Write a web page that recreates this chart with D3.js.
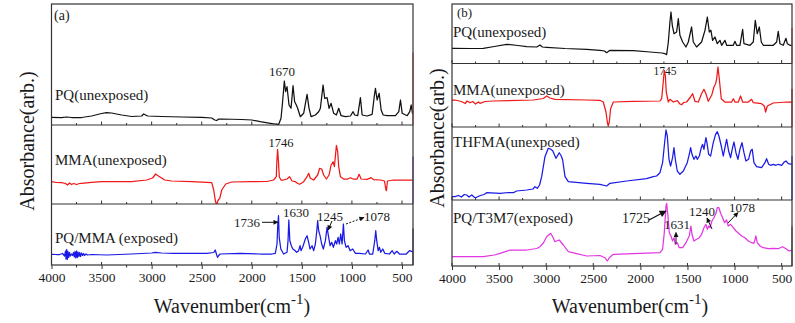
<!DOCTYPE html>
<html><head><meta charset="utf-8">
<script src="https://cdn.jsdelivr.net/npm/d3@7"></script>
<style>body{margin:0;background:#fff}svg{display:block}</style>
</head><body><svg id="c" width="795" height="323"></svg>
<script>
// ---------- data (wavenumber cm-1, absorbance arb.) ----------
const majorTicks=[4000,3500,3000,2500,2000,1500,1000,500];
const minorTicks=[3750,3250,2750,2250,1750,1250,750];
const xDomain=[4000,390];

const pqA=[[4000,7.7],[3900,7.3],[3850,8],[3800,7.5],[3700,7.5],[3600,9],[3500,11.5],[3450,12.3],[3400,12],[3300,10],[3200,8.5],[3100,9],[3080,11],[3060,10],[3040,9],[2900,8.5],[2700,8],[2500,7.7],[2400,7],[2370,5],[2350,4.5],[2330,6],[2300,6],[2100,5.5],[2000,5],[1915,3.3],[1815,1.7],[1732,0.5],[1708,6.7],[1695,20],[1675,44],[1662,33.3],[1648,38.3],[1628,20],[1608,16.7],[1588,39.3],[1572,23.3],[1555,20],[1542,16.7],[1515,8.3],[1482,11.7],[1448,30.7],[1428,16.7],[1408,8.3],[1365,10],[1332,13.3],[1315,16.7],[1288,40],[1272,26.7],[1248,27.3],[1228,16.7],[1208,21.7],[1182,11.7],[1155,10],[1132,16.7],[1108,9.3],[1065,8.3],[1015,9],[988,13.3],[972,10],[942,9.3],[915,27.3],[898,10],[848,9],[798,10.7],[775,30],[765,36.7],[748,25],[728,31.7],[708,15],[688,10],[648,9.3],[565,9.3],[532,13.3],[515,25],[498,11.7],[448,9.3],[422,13.3],[408,20],[395,11.7],[390,11]];

const mmaA=[[4000,22.3],[3950,21.5],[3900,21.3],[3860,20.5],[3840,19],[3820,21],[3800,19.5],[3780,20.5],[3750,19.5],[3720,20.5],[3700,20.7],[3600,21.7],[3500,22.3],[3200,22.3],[3050,24],[2990,26],[2960,30],[2940,28.5],[2920,27.3],[2870,24],[2800,23],[2600,22.3],[2400,21.3],[2380,14],[2365,4],[2355,0],[2345,0.7],[2335,4],[2320,5.7],[2300,14],[2260,20],[2200,22],[2000,22.3],[1850,22.5],[1782,24],[1755,27.3],[1750,42],[1742,54.5],[1735,45],[1725,27],[1708,24],[1688,24],[1648,25],[1622,27.3],[1598,23],[1565,22.3],[1540,20.5],[1522,19.7],[1500,21],[1482,22.3],[1448,27.3],[1432,30.7],[1415,25.7],[1382,24],[1342,29],[1322,35.7],[1302,35],[1282,29],[1255,25],[1228,29],[1208,39],[1188,42.3],[1175,37.3],[1155,58.5],[1142,52.3],[1132,37.3],[1115,27.3],[1082,25],[1042,25],[1015,26.3],[988,25],[948,25],[928,29.7],[908,25],[848,24.7],[808,26.3],[782,24.3],[715,24],[675,23],[660,14],[655,13.5],[645,23],[582,24],[515,24],[390,24]];

const pqmmaA=[[4000,10.7],[3950,10.5],[3920,10.5],[3890,11.5],[3870,9],[3860,14],[3855,6],[3848,15.5],[3842,5.5],[3835,13.5],[3828,7.5],[3820,12.5],[3812,9],[3800,11],[3790,9.5],[3780,12.5],[3772,8],[3765,13.5],[3757,7],[3750,14],[3742,7.5],[3735,13],[3727,8.5],[3718,12.5],[3710,8.5],[3700,12],[3690,9.5],[3680,11.5],[3670,9.5],[3655,11],[3640,10],[3600,10.5],[3450,10],[3200,11],[3000,12],[2965,12.7],[2900,12],[2782,11.7],[2448,11.7],[2380,12.5],[2365,15],[2350,10],[2342,7.7],[2330,9.5],[2315,11],[2115,11.7],[1915,11],[1798,11],[1765,11.7],[1748,21],[1740,41],[1733,49.3],[1726,27.7],[1710,16],[1682,11],[1648,12.7],[1638,24.3],[1630,45],[1620,24.3],[1605,19.3],[1590,16],[1575,15],[1552,12.7],[1532,14.3],[1518,19.3],[1508,14.3],[1492,17.7],[1465,26],[1448,29.3],[1432,22.7],[1418,16],[1398,19.3],[1382,14.3],[1365,21],[1352,32.7],[1342,44.3],[1332,34.3],[1318,29.3],[1302,21],[1285,16],[1265,24.3],[1248,37.7],[1235,29.3],[1218,19.3],[1202,22.7],[1185,17.7],[1165,24.3],[1152,21],[1138,27.7],[1125,21],[1112,31],[1098,21],[1085,41],[1075,24.3],[1058,17.7],[1038,19.3],[1018,14.3],[992,16],[965,11.7],[925,11.7],[865,11],[838,15],[825,11],[792,11],[772,24.3],[762,34.3],[752,24.3],[738,14.3],[725,17.7],[712,12.7],[692,16],[672,11.7],[625,11],[598,14.3],[578,11],[552,13.7],[525,11],[458,11],[425,14.3],[405,13.7],[390,13]];

const pqB=[[4000,15],[3986,15.2],[3800,15],[3668,15.2],[3550,17],[3420,19.2],[3300,18],[3207,16.8],[3100,16.5],[3066,18.5],[3040,16.5],[2995,16.2],[2800,15],[2570,14.2],[2429,13.2],[2380,12.5],[2358,10.8],[2323,13.2],[2075,12.8],[1898,11.5],[1770,10.5],[1739,9.8],[1721,8.8],[1703,21.5],[1686,41.5],[1675,51.5],[1661,38.2],[1643,29.8],[1615,31.5],[1597,44.8],[1580,28.2],[1551,21.5],[1516,16.5],[1491,21.5],[1456,36.5],[1438,21.5],[1403,16.5],[1350,21.5],[1314,33.2],[1289,46.5],[1268,31.5],[1251,33.2],[1233,23.2],[1208,26.5],[1183,19.8],[1155,23.2],[1137,18.2],[1102,23.2],[1084,18.2],[1013,18.2],[996,22.2],[978,18.2],[943,18.2],[914,34.2],[900,19.8],[836,18.2],[801,21.5],[780,43.2],[759,29.8],[737,36.5],[716,21.5],[695,18.2],[589,18.2],[553,21.5],[536,32.2],[518,19.8],[483,18.2],[454,25.2],[440,19.8],[412,18.2],[390,18.2]];

const mmaB=[[4000,27],[3968,27],[3900,25.5],[3860,23.5],[3840,26],[3809,24.3],[3780,25.5],[3750,23],[3720,25],[3703,23.7],[3650,25.5],[3562,26],[3137,27],[3030,28.5],[2995,31],[2960,29],[2907,27.7],[2570,27],[2429,26.7],[2394,25],[2365,15],[2351,5],[2341,1],[2330,5],[2316,18.3],[2287,25],[2075,25.7],[1792,26],[1774,28.3],[1757,45],[1746,56.7],[1735,51.7],[1725,35],[1703,25],[1686,27.7],[1650,25],[1608,26.3],[1580,23],[1562,22.3],[1540,24.5],[1509,25],[1467,30],[1445,33.3],[1420,25.7],[1385,25],[1350,33.3],[1325,37.7],[1304,33.3],[1279,25.7],[1243,31.7],[1219,40],[1201,43.3],[1190,48.3],[1176,60],[1162,48.3],[1141,28.3],[1102,25],[1031,25],[1013,28.3],[996,25],[960,25],[936,31],[914,25],[854,25],[819,27.7],[801,24.3],[713,23.3],[684,21],[670,15],[652,21],[589,24],[447,25],[390,25]];

const thfmaB=[[4000,3.5],[3968,3.3],[3930,4.5],[3900,3],[3870,5.5],[3844,5],[3820,3],[3790,5],[3760,2.5],[3738,2.7],[3700,4.5],[3660,5.5],[3632,7.3],[3490,6.7],[3400,7.5],[3349,7.3],[3314,9],[3207,10],[3140,11],[3119,13.3],[3094,11.7],[3070,15],[3048,23.3],[3013,43.3],[2978,51.7],[2955,51],[2931,49.3],[2896,41.7],[2861,47.3],[2840,44],[2825,40],[2800,23.3],[2765,18.3],[2570,16.7],[2429,15.7],[2358,14],[2323,16.7],[2146,19],[1934,21.3],[1863,23.3],[1827,24],[1792,27.3],[1764,37.3],[1746,54],[1728,70],[1714,64],[1696,40.7],[1679,34],[1658,42.3],[1643,52.3],[1629,40.7],[1608,29],[1580,25.7],[1544,29],[1502,37.3],[1481,45.7],[1466,52.3],[1452,45.7],[1431,40.7],[1410,44],[1396,40.7],[1374,44],[1353,52.3],[1339,55.7],[1325,50.7],[1304,62.3],[1293,57.3],[1275,45.7],[1254,44],[1226,57.3],[1201,65.7],[1183,68.3],[1166,64],[1141,54],[1120,44],[1102,52.3],[1084,60.7],[1063,49],[1042,42.3],[1021,52.3],[1006,58],[985,47.3],[964,40.7],[943,50.7],[921,57.3],[900,47.3],[879,39],[851,40.7],[829,49],[812,50.7],[794,37.3],[766,33.3],[713,32.3],[677,37.3],[660,41.3],[638,35.7],[617,34.7],[589,35.7],[560,34.7],[536,35.7],[500,34.7],[472,38],[454,39],[429,36.3],[390,35.7]];

const pqt3m7B=[[4000,9.3],[3800,9.3],[3668,9.3],[3550,11],[3490,12.7],[3384,16],[3207,16],[3100,17.5],[3066,19.3],[3030,23],[2995,29.3],[2952,32.7],[2930,29],[2907,24.3],[2880,25.5],[2861,26],[2818,21],[2765,14.3],[2570,10],[2429,10.5],[2376,8.3],[2351,5],[2330,8.3],[2287,11.7],[2075,12.3],[1792,13.3],[1764,16.7],[1746,33.3],[1728,60],[1721,62.7],[1707,50],[1693,33.3],[1675,30],[1658,25],[1643,28.3],[1629,21.7],[1608,23.3],[1587,18.3],[1551,18.3],[1516,23.3],[1481,30],[1463,40],[1452,31.7],[1431,25],[1403,26.7],[1374,28.3],[1350,31.7],[1325,38.3],[1304,41.7],[1289,36.7],[1275,40],[1261,38.3],[1240,45],[1219,48.3],[1197,52.7],[1183,58.3],[1166,58.3],[1148,52.7],[1127,48.3],[1106,43.3],[1084,46],[1067,40],[1042,41.7],[1013,38.3],[985,35],[957,32.7],[925,30],[890,28.3],[854,25],[819,23.3],[794,22.7],[773,30],[759,23.3],[730,20],[695,18.3],[642,17.3],[589,17.7],[536,17.3],[490,19.3],[454,17.3],[419,15],[390,16]];

// ---------- layout ----------
const FONT="'Liberation Serif','DejaVu Serif','Noto Serif','Times New Roman',Times,serif";
const panels=[
 {x0:51.5,x1:413,top:4,bottom:265,tag:"(a)",tagX:54,tagY:20,tagSize:14,yl:[34,141],xl:[232,313],
  subs:[
   {top:4,bottom:125,data:pqA,color:"#111111",label:"PQ(unexposed)",lx:55,ly:100,rc:"#d84040"},
   {top:125,bottom:204,data:mmaA,color:"#f01818",label:"MMA(unexposed)",lx:55,ly:165,rc:"#7a3cc0"},
   {top:204,bottom:265,data:pqmmaA,color:"#1a1ae6",label:"PQ/MMA (exposed)",lx:55,ly:243,rc:"#22226a"}]},
 {x0:452,x1:792,top:4,bottom:266,tag:"(b)",tagX:457,tagY:17,tagSize:13,yl:[444,138],xl:[630,313],
  subs:[
   {top:4,bottom:63.5,data:pqB,color:"#111111",label:"PQ(unexposed)",lx:453,ly:37,rc:"#d84040"},
   {top:63.5,bottom:127,data:mmaB,color:"#f01818",label:"MMA(unexposed)",lx:453,ly:95,rc:"#e02020"},
   {top:127,bottom:200,data:thfmaB,color:"#1a1ae6",label:"THFMA(unexposed)",lx:453,ly:147,rc:"#2a2ae0"},
   {top:200,bottom:266,data:pqt3m7B,color:"#e236e2",label:"PQ/T3M7(exposed)",lx:453,ly:223,rc:"#444"}]}
];

const annA=[{t:"1670",x:282,y:76,s:13},{t:"1746",x:281,y:147,s:12.5},{t:"1736",x:247,y:227,s:13},{t:"1630",x:296,y:217,s:13},{t:"1245",x:330,y:220.5,s:13},{t:"1078",x:377,y:221,s:13}];
const annB=[{t:"1745",x:665,y:74.5,s:11.5},{t:"1725",x:636,y:222.5,s:14},{t:"1631",x:677,y:229,s:13},{t:"1240",x:702,y:216,s:13},{t:"1078",x:742,y:211.5,s:13}];
const arrows=[
 {p:[[262,222.3],[278,222.3]],dash:false},
 {p:[[332,221],[328,230]],dash:false},
 {p:[[346,224],[364,217.5]],dash:true},
 {p:[[649,220],[666,211]],dash:false,big:true},
 {p:[[676,244],[676,232.5]],dash:false},
 {p:[[712,229],[707,218]],dash:false},
 {p:[[728,223],[738,212.5]],dash:false}
];

const svg=d3.select("#c").attr("font-family",FONT);
const defs=svg.append("defs");
defs.append("marker").attr("id","ah").attr("viewBox","0 0 10 10").attr("refX",9).attr("refY",5)
  .attr("markerWidth",6).attr("markerHeight",5).attr("markerUnits","userSpaceOnUse").attr("orient","auto")
  .append("path").attr("d","M0,0L10,5L0,10z").attr("fill","#111");
defs.append("marker").attr("id","ahb").attr("viewBox","0 0 10 10").attr("refX",9).attr("refY",5)
  .attr("markerWidth",9).attr("markerHeight",7).attr("markerUnits","userSpaceOnUse").attr("orient","auto")
  .append("path").attr("d","M0,0L10,5L0,10z").attr("fill","#111");

function txt(g){return g.append("text").attr("font-family",FONT).attr("fill","#1a1a1a");}

panels.forEach((P,pi)=>{
  const x=d3.scaleLinear().domain(xDomain).range([P.x0,P.x1]);
  const g=svg.append("g");
  P.subs.forEach((S,si)=>{
    const y=d3.scaleLinear().domain([0,S.bottom-S.top]).range([S.bottom,S.top]);
    const cid="clip"+pi+"_"+si;
    defs.append("clipPath").attr("id",cid).append("rect")
      .attr("x",P.x0).attr("y",S.top).attr("width",P.x1-P.x0).attr("height",S.bottom-S.top);
    g.append("path").datum(S.data).attr("clip-path","url(#"+cid+")")
      .attr("fill","none").attr("stroke",S.color).attr("stroke-width",1.25).attr("stroke-linejoin","round")
      .attr("d",d3.line().x(d=>x(d[0])).y(d=>y(d[1])));
    if(si<P.subs.length-1){
      g.append("line").attr("x1",P.x0).attr("x2",P.x1).attr("y1",S.bottom).attr("y2",S.bottom).attr("stroke","#333").attr("stroke-width",1.2);
      g.selectAll(null).data(majorTicks).join("line").attr("x1",d=>x(d)).attr("x2",d=>x(d))
        .attr("y1",S.bottom).attr("y2",S.bottom-3.5).attr("stroke","#333");
      g.selectAll(null).data(minorTicks).join("line").attr("x1",d=>x(d)).attr("x2",d=>x(d))
        .attr("y1",S.bottom).attr("y2",S.bottom-2).attr("stroke","#333");
    }
    g.append("line").attr("x1",P.x1).attr("x2",P.x1).attr("y1",S.top+(S.bottom-S.top)*0.4).attr("y2",S.bottom)
      .attr("stroke",S.rc).attr("stroke-width",1.3).attr("opacity",0.8);
    txt(g).attr("x",S.lx).attr("y",S.ly).attr("font-size",15).text(S.label);
  });
  g.append("rect").attr("x",P.x0).attr("y",P.top).attr("width",P.x1-P.x0).attr("height",P.bottom-P.top)
    .attr("fill","none").attr("stroke","#333").attr("stroke-width",1.2);
  const ax=d3.axisBottom(x).tickValues(majorTicks).tickSize(4).tickSizeOuter(0).tickFormat(d3.format("d"));
  const axg=g.append("g").attr("transform","translate(0,"+P.bottom+")").call(ax);
  axg.attr("font-family",FONT);
  axg.select(".domain").remove();
  axg.selectAll("line").attr("stroke","#333");
  axg.selectAll("text").attr("y",16.5).attr("dy",0).attr("font-size",13.5)
    .attr("font-family",FONT).attr("fill","#1a1a1a");
  g.selectAll(null).data(minorTicks).join("line").attr("x1",d=>x(d)).attr("x2",d=>x(d))
    .attr("y1",P.bottom).attr("y2",P.bottom+2.5).attr("stroke","#333");
  g.selectAll(null).data(majorTicks).join("line").attr("x1",d=>x(d)).attr("x2",d=>x(d))
    .attr("y1",P.bottom).attr("y2",P.bottom-3).attr("stroke","#333");
  txt(g).attr("x",P.tagX).attr("y",P.tagY).attr("font-size",P.tagSize).text(P.tag);
  const xt=txt(g).attr("x",P.xl[0]).attr("y",P.xl[1]).attr("text-anchor","middle").attr("font-size",20);
  xt.append("tspan").text("Wavenumber(cm");
  xt.append("tspan").attr("dy",-9).attr("font-size",15).text("-1");
  xt.append("tspan").attr("dy",9).text(")");
  txt(g).attr("transform","translate("+P.yl[0]+","+P.yl[1]+") rotate(-90)")
    .attr("text-anchor","middle").attr("font-size",20).text("Absorbance(arb.)");
  (pi===0?annA:annB).forEach(a=>{
    txt(g).attr("x",a.x).attr("y",a.y).attr("text-anchor","middle").attr("font-size",a.s).text(a.t);
  });
});
arrows.forEach(a=>{
  svg.append("path").attr("d",d3.line()(a.p)).attr("fill","none").attr("stroke","#111")
    .attr("stroke-width",a.big?1.3:1).attr("stroke-dasharray",a.dash?"2,1.5":null)
    .attr("marker-end",a.big?"url(#ahb)":"url(#ah)");
});
</script></body></html>
